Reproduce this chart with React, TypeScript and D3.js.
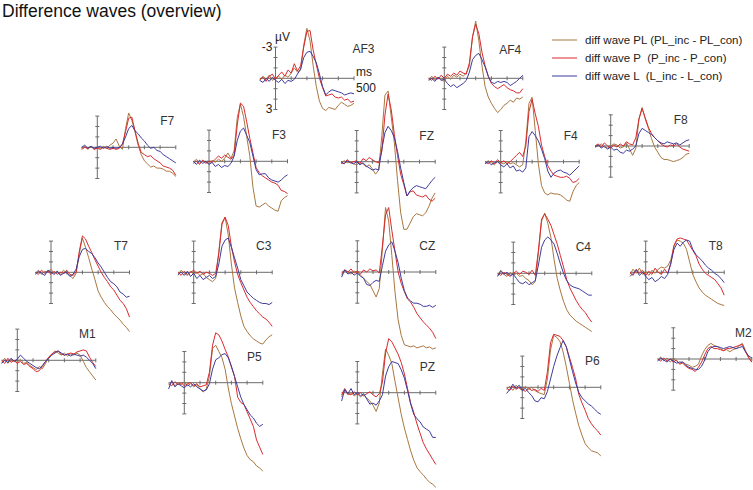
import * as d3 from "d3";

// sampling grid (ms) shared by every wave
const timesMs = [-100, -80, -60, -40, -20, 0, 20, 40, 60, 80, 100, 120, 140, 160, 180, 200, 220, 240, 260, 280, 300, 320, 340, 360, 380, 400, 420, 440, 460, 480, 500];

const channels = ["AF3", "AF4", "F7", "F3", "FZ", "F4", "F8", "T7", "C3", "CZ", "C4", "T8", "M1", "P5", "PZ", "P6", "M2"];

const seriesNames = ["diff wave PL (PL_inc - PL_con)", "diff wave P  (P_inc - P_con)", "diff wave L  (L_inc - L_con)"];

const yTicks = [-3, -2, -1, 0, 1, 2, 3];
const xTicks = [100, 200, 300, 400, 500];

// values in µV (negative plotted up)
const AF3_PL = [0.2, -0.2, 0.1, -0.3, 0.2, 0.0, -0.2, 0.1, -0.3, -0.1, -0.5, -1.0, -0.6, -0.8, -3.2, -4.8, -3.6, -1.2, 0.8, 2.2, 2.9, 3.1, 2.8, 2.9, 3.0, 2.6, 2.3, 2.5, 2.7, 2.6, 2.4];
const AF3_P = [0.1, -0.1, 0.3, -0.2, -0.4, 0.1, -0.3, -0.6, -0.2, -0.8, -0.5, -1.4, -0.7, -1.2, -3.0, -4.5, -4.6, -2.7, -1.3, 0.0, 0.9, 1.7, 1.6, 1.5, 1.8, 1.9, 1.8, 2.1, 2.0, 2.3, 2.2];
const AF3_L = [0.2, 0.4, 0.0, 0.3, -0.1, 0.2, 0.4, 0.1, 0.5, 0.2, 0.3, 0.1, -0.4, -0.9, -2.0, -2.5, -2.6, -2.1, -1.5, -0.4, 0.8, 1.6, 1.3, 1.1, 1.2, 1.3, 1.4, 1.6, 1.5, 1.4, 1.5];

const AF4_PL = [0.1, -0.2, 0.2, -0.1, 0.1, 0.3, -0.2, 0.1, -0.3, -0.1, -0.4, -0.2, -0.5, -1.2, -4.0, -5.5, -3.6, -1.2, 0.8, 1.8, 2.4, 2.9, 3.3, 3.0, 2.6, 2.4, 2.1, 2.3, 1.9, 2.0, 1.8];
const AF4_P = [0.0, 0.2, -0.2, 0.1, -0.3, 0.0, -0.4, -0.2, -0.5, -0.3, -0.7, -0.5, -0.4, -1.5, -4.0, -5.2, -4.3, -2.5, -1.2, -0.2, 0.5, 0.8, 1.0, 0.8, 0.6, 0.9, 1.1, 1.2, 1.4, 1.4, 1.0];
const AF4_L = [0.2, 0.0, 0.3, -0.1, 0.2, 0.1, 0.5, 0.8, 0.6, 0.9, 0.7, 0.5, 0.2, -0.6, -1.8, -2.2, -2.4, -1.8, -1.1, -0.2, 0.4, 0.5, 0.3, 0.4, 0.3, 0.4, 0.7, 0.5, 0.3, 0.0, -0.3];

const F7_PL = [0.1, -0.1, 0.2, -0.1, 0.2, 0.0, 0.1, -0.1, 0.1, -0.2, -0.4, -0.8, -0.1, 0.2, -1.8, -3.3, -2.6, -1.5, -0.2, 0.7, 1.3, 1.6, 1.9, 1.8, 2.0, 2.0, 2.1, 2.3, 2.3, 2.5, 2.8];
const F7_P = [0.2, 0.0, 0.1, -0.1, 0.2, 0.1, 0.2, 0.0, 0.1, 0.2, 0.1, 0.2, 0.1, -0.3, -1.5, -2.8, -2.9, -1.6, -0.4, 0.5, 0.7, 0.9, 0.8, 1.1, 1.3, 1.5, 1.8, 1.9, 2.0, 2.2, 2.7];
const F7_L = [0.0, -0.2, 0.1, -0.1, 0.1, 0.0, -0.1, 0.1, -0.1, 0.1, 0.0, 0.1, 0.0, -0.3, -1.0, -1.8, -2.1, -1.6, -1.3, -0.9, -0.6, -0.2, 0.1, 0.0, 0.3, 0.4, 0.7, 0.9, 1.1, 1.3, 1.5];

const F3_PL = [0.1, -0.2, 0.2, -0.1, 0.1, 0.2, -0.1, 0.1, -0.2, 0.0, -0.3, -0.8, -0.3, -1.0, -4.2, -5.5, -4.3, -2.4, -0.5, 2.5, 4.3, 4.4, 4.2, 4.0, 4.3, 4.5, 4.7, 4.8, 3.8, 3.5, 3.3];
const F3_P = [0.2, 0.0, 0.3, -0.1, 0.2, 0.0, 0.1, -0.2, -0.5, -0.3, -0.6, -0.4, -0.2, -0.6, -3.5, -5.6, -5.3, -3.8, -2.2, -0.8, 0.6, 1.1, 1.4, 1.6, 1.8, 2.0, 2.1, 2.3, 2.8, 2.9, 3.1];
const F3_L = [0.0, 0.3, -0.1, 0.2, 0.0, 0.3, 0.1, 0.5, 0.3, 0.6, 0.4, 0.5, 0.2, -0.5, -2.0, -2.9, -3.2, -2.5, -1.8, -0.5, 0.8, 1.3, 1.2, 1.2, 1.6, 1.8, 1.9, 2.0, 1.8, 1.5, 1.3];

const FZ_PL = [0.2, -0.1, 0.1, 0.0, 0.2, 0.3, 0.1, 0.2, 0.5, 0.3, 0.7, 1.2, 0.8, -2.5, -6.4, -6.8, -4.3, -1.8, 1.8, 4.9, 6.5, 6.5, 5.9, 5.3, 5.0, 5.1, 5.2, 4.9, 4.3, 3.5, 3.0];
const FZ_P = [0.1, 0.2, -0.2, 0.1, 0.0, -0.1, 0.2, -0.3, -0.1, -0.4, -0.2, 0.0, 0.1, -1.0, -4.5, -6.5, -5.0, -2.6, -0.6, 1.2, 2.2, 3.3, 2.9, 2.8, 3.2, 3.3, 3.4, 3.2, 3.6, 3.8, 3.5];
const FZ_L = [0.0, 0.2, -0.1, 0.1, 0.2, 0.0, 0.3, 0.1, 0.4, 0.6, 0.8, 0.7, 0.8, -1.2, -2.8, -3.4, -3.0, -2.3, -1.0, 0.6, 2.0, 3.3, 2.8, 2.5, 2.3, 2.4, 2.5, 2.6, 2.2, 1.8, 1.5];

const F4_PL = [0.2, -0.1, 0.1, 0.3, 0.0, 0.1, 0.2, 0.0, 0.2, 0.1, 0.3, 0.5, 0.3, -2.0, -5.6, -6.2, -3.0, 0.2, 2.3, 3.0, 3.2, 3.0, 3.1, 3.1, 3.2, 3.4, 3.7, 3.8, 2.9, 2.3, 2.0];
const F4_P = [0.0, 0.2, -0.1, 0.2, -0.2, 0.1, -0.1, 0.2, 0.0, -0.3, -0.6, -0.9, -0.5, -1.5, -4.8, -6.0, -4.6, -3.4, -1.6, -0.5, 0.4, 0.9, 1.3, 1.4, 1.5, 1.5, 1.4, 1.6, 2.0, 1.9, 1.6];
const F4_L = [0.2, 0.0, 0.3, 0.1, 0.0, 0.3, 0.5, 0.2, 0.6, 0.4, 0.9, 0.8, 1.0, 0.6, -2.4, -2.9, -2.5, -2.0, -1.2, -0.3, 0.9, 1.5, 1.1, 0.9, 0.8, 1.0, 1.1, 1.3, 1.0, 0.7, 0.4];

const F8_PL = [0.1, 0.0, -0.2, 0.1, 0.2, 0.0, -0.2, -0.1, 0.2, 0.1, -0.3, 0.3, 0.9, 0.2, -2.6, -3.7, -2.6, -1.7, -0.7, 0.1, 0.6, 1.1, 1.3, 1.3, 1.4, 1.5, 1.4, 1.3, 1.1, 0.8, 0.7];
const F8_P = [0.0, -0.2, 0.1, -0.3, 0.0, 0.2, -0.1, 0.1, -0.2, 0.0, -0.4, -0.2, -0.1, -0.8, -2.6, -3.6, -2.7, -1.8, -1.2, -0.8, -0.5, -0.2, 0.0, 0.1, -0.1, 0.0, -0.2, 0.1, 0.3, 0.4, 0.5];
const F8_L = [0.1, -0.1, 0.2, 0.0, 0.3, 0.1, 0.4, 0.3, 0.6, 0.7, 0.4, 0.5, 0.3, 0.0, -1.2, -1.7, -1.5, -1.3, -1.1, -0.8, -0.5, -0.3, -0.2, -0.4, -0.3, -0.2, -0.3, -0.1, -0.3, -0.5, -0.6];

const T7_PL = [0.1, -0.2, 0.2, -0.1, 0.0, -0.3, 0.1, -0.1, 0.2, -0.2, 0.1, 0.3, 0.6, 0.1, -1.8, -3.3, -2.4, -1.4, -0.3, 0.7, 1.8, 2.4, 2.9, 3.3, 3.6, 4.0, 4.3, 4.6, 5.0, 5.3, 5.7];
const T7_P = [0.0, 0.2, -0.2, 0.1, -0.1, 0.2, -0.1, 0.2, 0.0, 0.1, -0.2, 0.2, 0.3, 0.0, -2.0, -3.5, -3.2, -2.5, -1.9, -1.2, -0.6, 0.0, 0.5, 0.9, 1.4, 1.7, 2.2, 2.7, 3.0, 3.5, 4.3];
const T7_L = [0.2, -0.1, 0.1, 0.3, -0.2, 0.0, 0.2, -0.1, 0.3, 0.1, 0.0, 0.4, 0.2, -0.3, -1.5, -2.2, -2.3, -2.0, -1.8, -1.4, -0.9, -0.5, 0.0, 0.5, 0.9, 1.1, 1.4, 1.9, 2.1, 2.4, 2.3];

const C3_PL = [0.3, -0.2, 0.1, 0.3, -0.1, 0.2, 0.0, 0.3, 0.1, 0.5, 0.7, 0.9, 0.6, -2.0, -4.8, -5.3, -3.6, -0.8, 1.5, 2.9, 4.2, 5.2, 5.7, 6.1, 6.4, 6.6, 6.8, 6.9, 6.5, 6.2, 6.0];
const C3_P = [0.0, 0.3, -0.1, 0.2, 0.0, -0.2, 0.1, -0.1, 0.2, 0.0, 0.1, 0.3, 0.1, -1.8, -4.6, -5.3, -4.5, -2.5, -1.0, 0.2, 1.0, 1.7, 2.4, 2.9, 3.3, 3.7, 4.0, 4.3, 4.5, 4.8, 5.2];
const C3_L = [0.2, 0.0, 0.3, -0.1, 0.4, 0.1, 0.6, 0.3, 0.7, 0.5, 0.3, 0.6, 0.4, -0.8, -2.5, -3.1, -3.3, -2.4, -1.4, -0.4, 0.7, 1.3, 1.9, 2.2, 2.5, 2.7, 2.9, 3.0, 3.0, 3.1, 2.9];

const CZ_PL = [0.3, -0.2, 0.0, 0.2, -0.1, 0.1, 0.3, 0.6, 0.9, 1.2, 1.8, 2.4, 1.6, -2.2, -6.2, -4.9, -1.6, 1.9, 4.6, 6.1, 7.0, 7.1, 7.2, 7.1, 7.3, 7.2, 7.1, 7.3, 7.2, 7.4, 7.3];
const CZ_P = [0.1, -0.2, 0.0, -0.3, 0.1, -0.1, 0.2, -0.2, 0.0, -0.3, -0.1, -0.2, 0.1, -2.5, -5.5, -6.2, -4.0, -2.0, 0.0, 1.1, 1.9, 2.6, 2.9, 3.4, 4.0, 4.4, 4.8, 5.1, 5.4, 5.8, 6.4];
const CZ_L = [0.5, -0.2, 0.2, 0.0, 0.3, 0.1, 0.4, 0.6, 1.2, 1.3, 1.0, 0.8, 0.9, -0.6, -2.0, -2.6, -2.9, -2.0, -0.9, 0.6, 1.8, 2.5, 2.8, 3.0, 3.0, 3.1, 3.3, 3.3, 3.2, 3.4, 3.2];

const C4_PL = [0.2, -0.3, 0.1, 0.3, -0.1, 0.2, 0.0, 0.3, 0.2, 0.5, 0.7, 1.1, 0.8, -2.0, -5.0, -5.8, -4.8, -3.4, -1.3, 0.5, 1.7, 2.7, 3.5, 4.0, 4.3, 4.6, 4.8, 5.0, 5.2, 5.4, 5.6];
const C4_P = [0.0, 0.2, -0.1, 0.1, 0.3, 0.0, -0.2, 0.1, -0.2, -0.1, 0.1, -0.3, 0.2, -2.2, -5.2, -5.7, -5.2, -4.6, -3.7, -2.8, -1.7, -0.6, 0.6, 1.4, 2.0, 2.6, 3.1, 3.5, 3.8, 4.3, 4.7];
const C4_L = [0.3, -0.2, 0.1, -0.1, 0.2, 0.1, 0.5, 0.9, 1.0, 0.8, 1.1, 0.9, 0.7, -0.8, -2.5, -3.2, -3.5, -3.2, -2.8, -1.9, -0.9, 0.0, 0.7, 1.1, 1.3, 1.4, 1.5, 1.7, 1.9, 2.1, 2.1];

const T8_PL = [0.2, -0.3, 0.1, -0.4, 0.2, -0.1, 0.3, -0.2, 0.1, -0.3, -0.5, -0.4, -0.6, -1.2, -2.5, -3.1, -3.0, -2.8, -2.2, -1.0, 0.2, 0.9, 1.5, 1.9, 2.2, 2.4, 2.6, 2.8, 3.0, 3.1, 3.2];
const T8_P = [0.0, 0.3, -0.3, 0.1, -0.2, 0.3, -0.1, 0.2, -0.4, 0.0, 0.2, -0.3, 0.1, -0.8, -2.6, -3.2, -3.3, -3.2, -3.1, -2.6, -2.1, -1.6, -0.8, -0.3, 0.1, 0.3, 0.5, 0.7, 1.1, 1.5, 2.2];
const T8_L = [0.4, 0.1, -0.2, 0.3, 0.0, 0.4, 0.7, 0.5, 0.9, 0.7, 0.4, 0.6, 0.2, -0.9, -2.2, -2.8, -2.5, -2.9, -3.1, -3.0, -2.2, -1.7, -1.4, -1.1, -0.7, -0.4, -0.2, 0.1, 0.3, 0.6, 1.0];

const M1_PL = [0.2, -0.2, 0.3, -0.1, 0.1, 0.2, -0.1, 0.3, 0.2, 0.5, 0.7, 0.9, 0.6, 0.8, 0.3, -0.3, -0.6, -0.9, -0.7, -0.5, -0.7, -0.4, -0.6, -0.5, -0.7, -0.5, 0.1, 0.7, 1.1, 1.5, 1.9];
const M1_P = [0.0, 0.3, -0.2, 0.2, 0.0, 0.3, 0.1, 0.4, 0.3, 0.6, 0.8, 1.1, 1.0, 0.6, 0.1, -0.3, -0.6, -0.8, -0.9, -0.6, -0.5, -0.6, -0.7, -0.6, -0.8, -0.9, -1.0, -0.9, -0.3, 0.2, 0.6];
const M1_L = [0.3, 0.0, 0.2, -0.2, 0.1, -0.1, -0.5, -0.2, 0.1, 0.3, 0.5, 0.7, 0.8, 0.5, 0.1, -0.2, -0.5, -0.7, -0.9, -0.7, -0.5, -0.6, -0.4, -0.6, -0.5, -0.4, -0.5, -0.3, 0.0, 0.3, 0.8];

const P5_PL = [0.2, -0.1, 0.3, 0.0, 0.2, -0.1, 0.3, 0.1, 0.4, 0.2, 0.6, 0.9, 0.6, -0.6, -3.3, -3.6, -3.0, -2.4, -1.3, 0.5, 2.0, 3.2, 4.4, 5.4, 6.3, 7.0, 7.4, 7.6, 8.0, 8.2, 8.5];
const P5_P = [0.1, 0.3, -0.1, 0.2, 0.0, 0.3, 0.1, 0.0, 0.3, 0.1, 0.4, 0.3, 0.2, -1.0, -3.6, -4.8, -4.6, -4.0, -3.2, -2.5, -1.5, -0.6, 1.4, 1.9, 2.1, 2.8, 3.5, 4.2, 5.5, 6.2, 6.9];
const P5_L = [0.6, -0.2, 0.4, 0.1, 0.3, 0.5, 0.2, 0.4, 0.1, 0.4, 0.6, 0.8, 0.7, 0.1, -1.3, -2.2, -2.4, -2.7, -2.8, -2.4, -1.6, -0.6, 0.4, 1.4, 2.1, 2.6, 3.1, 3.4, 3.9, 4.2, 4.0];

const PZ_PL = [0.4, -0.3, 0.2, 0.0, 0.3, 0.1, 0.4, 0.2, 0.5, 0.8, 1.2, 1.8, 1.0, -1.8, -4.2, -3.6, -2.8, -1.1, 0.5, 2.1, 3.4, 4.5, 5.6, 6.5, 7.2, 7.6, 7.9, 8.3, 8.6, 8.8, 9.1];
const PZ_P = [0.2, -0.4, 0.1, 0.2, -0.1, 0.2, 0.0, 0.3, 0.1, -0.1, 0.2, 0.4, 0.1, -1.0, -3.8, -5.2, -4.9, -4.3, -3.7, -2.9, -1.8, -0.4, 1.0, 1.9, 3.0, 3.9, 4.8, 5.4, 5.9, 6.4, 6.9];
const PZ_L = [0.8, -0.3, 0.1, -0.4, 0.2, 0.0, 0.3, 0.1, 0.6, 1.1, 1.0, 1.2, 0.8, 0.2, -1.6, -2.5, -3.0, -2.9, -2.8, -2.2, -1.4, -0.2, 1.1, 2.1, 2.5, 2.8, 3.3, 3.5, 3.7, 4.3, 4.3];

const P6_PL = [0.2, -0.1, 0.3, -0.2, 0.1, 0.3, -0.1, 0.2, 0.0, 0.3, 0.5, 0.6, 0.7, -0.8, -3.6, -5.0, -4.8, -4.4, -3.4, -2.0, -0.4, 1.2, 2.5, 3.7, 4.6, 5.4, 5.8, 6.1, 6.2, 6.3, 6.6];
const P6_P = [0.1, 0.3, -0.1, 0.2, 0.0, 0.2, 0.4, 0.1, 0.3, 0.2, 0.4, 0.1, 0.3, -1.5, -4.3, -5.1, -5.0, -4.9, -4.5, -3.9, -2.9, -1.9, -0.8, 0.7, 1.5, 2.2, 3.0, 3.5, 3.9, 4.2, 4.6];
const P6_L = [0.6, 0.2, -0.3, 0.1, -0.2, 0.3, 0.1, 0.5, 0.8, 1.3, 1.4, 1.0, 1.1, 0.4, -0.8, -2.0, -3.0, -3.8, -4.5, -3.9, -2.7, -1.5, -0.4, 0.5, 1.0, 1.3, 1.6, 1.8, 2.1, 2.4, 2.6];

const M2_PL = [0.1, -0.2, 0.2, -0.1, 0.3, 0.0, 0.2, 0.4, 0.3, 0.5, 0.6, 0.8, 0.7, 0.5, -0.3, -0.9, -1.3, -1.5, -1.3, -1.2, -1.0, -0.8, -0.9, -0.7, -0.9, -1.0, -1.3, -1.5, -0.8, -0.2, 0.3];
const M2_P = [0.0, 0.2, -0.1, 0.2, 0.0, 0.3, 0.1, 0.5, 0.4, 0.7, 0.9, 1.0, 1.2, 0.8, 0.3, -0.4, -1.0, -1.2, -1.0, -1.0, -0.9, -0.8, -1.0, -1.0, -1.1, -1.2, -1.3, -1.4, -0.7, -0.1, 0.3];
const M2_L = [0.2, -0.1, 0.1, 0.3, 0.0, 0.2, 0.4, 0.3, 0.3, 0.6, 0.8, 0.9, 1.0, 1.0, 0.7, 0.1, -0.7, -1.1, -1.2, -1.2, -1.1, -1.0, -1.1, -1.2, -1.1, -1.0, -1.1, -1.2, -0.7, -0.3, -0.1];

const waves: Record<string, number[][]> = {
  AF3: [AF3_PL, AF3_P, AF3_L],
  AF4: [AF4_PL, AF4_P, AF4_L],
  F7: [F7_PL, F7_P, F7_L],
  F3: [F3_PL, F3_P, F3_L],
  FZ: [FZ_PL, FZ_P, FZ_L],
  F4: [F4_PL, F4_P, F4_L],
  F8: [F8_PL, F8_P, F8_L],
  T7: [T7_PL, T7_P, T7_L],
  C3: [C3_PL, C3_P, C3_L],
  CZ: [CZ_PL, CZ_P, CZ_L],
  C4: [C4_PL, C4_P, C4_L],
  T8: [T8_PL, T8_P, T8_L],
  M1: [M1_PL, M1_P, M1_L],
  P5: [P5_PL, P5_P, P5_L],
  PZ: [PZ_PL, PZ_P, PZ_L],
  P6: [P6_PL, P6_P, P6_L],
  M2: [M2_PL, M2_P, M2_L],
};

// panel origins (0 ms / 0 µV) on the page
const layout: Record<string, { x: number; y: number; lx?: number; ly?: number }> = {
  AF3: { x: 275.5, y: 78.3, lx: 88, ly: -29 },
  AF4: { x: 444.3, y: 78.3, lx: 66, ly: -28 },
  F7: { x: 97.3, y: 147.3 },
  F3: { x: 209, y: 161.3 },
  FZ: { x: 356.7, y: 161.7 },
  F4: { x: 500.7, y: 161.7 },
  F8: { x: 610.7, y: 146 },
  T7: { x: 51, y: 272.3 },
  C3: { x: 193.7, y: 272.3 },
  CZ: { x: 357.3, y: 272 },
  C4: { x: 513.3, y: 273.3 },
  T8: { x: 645.7, y: 272.3 },
  M1: { x: 17.3, y: 360.3 },
  P5: { x: 184.3, y: 382.7 },
  PZ: { x: 357.3, y: 392.7 },
  P6: { x: 522.3, y: 387.3 },
  M2: { x: 673.3, y: 359 },
};

const colors = ["#a9773f", "#d92a2e", "#3d3c9c"];
const axisColor = "#6b6b6b";
const font = "'Liberation Sans', Arial, sans-serif";

const x = d3.scaleLinear().domain([0, 500]).range([0, 78.5]);
const y = d3.scaleLinear().domain([-3, 3]).range([-31.2, 31.2]);

const line = d3
  .line<number>()
  .x((_, i) => x(timesMs[i]))
  .y((d) => y(d));

function Panel({ name }: { name: string }) {
  const p = layout[name];
  const lx = p.lx ?? 70;
  const ly = p.ly ?? -26;
  return (
    <g transform={`translate(${p.x},${p.y})`}>
      <line x1={x(-100)} x2={x(500)} y1={0} y2={0} stroke={axisColor} strokeWidth={1} />
      <line x1={0} x2={0} y1={y(-3)} y2={y(3)} stroke={axisColor} strokeWidth={1} />
      {yTicks.map((t) => (
        <line key={"y" + t} x1={-2} x2={2} y1={y(t)} y2={y(t)} stroke={axisColor} />
      ))}
      {xTicks.map((t) => (
        <line key={"x" + t} x1={x(t)} x2={x(t)} y1={-2} y2={2} stroke={axisColor} />
      ))}
      {waves[name].map((vals, i) => (
        <path key={i} d={line(vals) ?? ""} fill="none" stroke={colors[i]} strokeWidth={1} strokeLinejoin="round" />
      ))}
      <text x={lx} y={ly} textAnchor="middle" dominantBaseline="central" fontSize={12} fill="#333" fontFamily={font}>
        {name}
      </text>
      {name === "AF3" && (
        <g fontSize={12} fill="#222" fontFamily={font}>
          <text x={7} y={y(-3) - 6} textAnchor="middle">µV</text>
          <text x={-3} y={y(-3) + 4} textAnchor="end">-3</text>
          <text x={-3} y={y(3) + 4} textAnchor="end">3</text>
          <text x={x(500) + 2} y={-2}>ms</text>
          <text x={x(500) + 2} y={14}>500</text>
        </g>
      )}
    </g>
  );
}

export default function App() {
  return (
    <svg width={753} height={490} style={{ position: "absolute", left: 0, top: 0, background: "#fff" }}>
      <text x={2} y={17} fontSize={17.5} fill="#111" fontFamily={font}>
        Difference waves (overview)
      </text>
      {channels.map((c) => (
        <Panel key={c} name={c} />
      ))}
      <g fontFamily={font} fontSize={11.5} fill="#222">
        {seriesNames.map((s, i) => (
          <g key={s} transform={`translate(552,${40 + i * 18})`}>
            <line x1={0} x2={25} y1={0} y2={0} stroke={colors[i]} strokeWidth={1} />
            <text x={33} y={4} style={{ whiteSpace: "pre" }}>
              {s}
            </text>
          </g>
        ))}
      </g>
    </svg>
  );
}
